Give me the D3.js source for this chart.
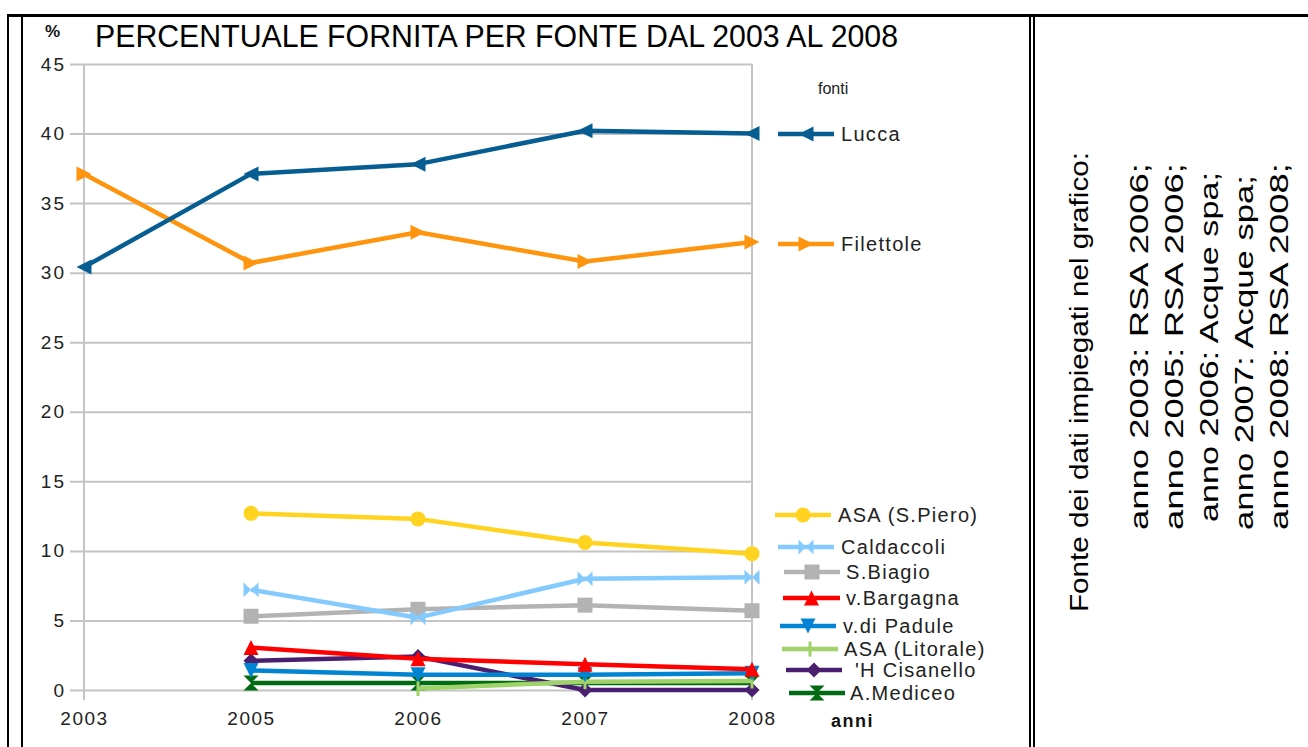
<!DOCTYPE html>
<html>
<head>
<meta charset="utf-8">
<script src="https://cdn.jsdelivr.net/npm/d3@7"></script>
<style>
  html, body { margin: 0; padding: 0; background: #fff; }
  svg { display: block; }
  text { font-family: "Liberation Sans", Arial, sans-serif; }
</style>
</head>
<body>
<svg id="chart" width="1308" height="747"></svg>
<script>
// ---------- data ----------
const years = ["2003", "2005", "2006", "2007", "2008"];
const yTicks = [0, 5, 10, 15, 20, 25, 30, 35, 40, 45];
const seriesNames = ["Lucca", "Filettole", "ASA (S.Piero)", "Caldaccoli", "S.Biagio",
  "v.Bargagna", "v.di Padule", "ASA (Litorale)", "'H Cisanello", "A.Mediceo"];
const lucca       = [30.4, 37.1, 37.8, 40.2, 40.0];
const filettole   = [37.1, 30.7, 32.9, 30.8, 32.2];
const asaSPiero   = [null, 12.7, 12.3, 10.6, 9.8];
const caldaccoli  = [null, 7.2, 5.2, 8.0, 8.1];
const sBiagio     = [null, 5.3, 5.8, 6.1, 5.7];
const vBargagna   = [null, 3.05, 2.25, 1.85, 1.5];
const vDiPadule   = [null, 1.4, 1.1, 1.1, 1.2];
const asaLitorale = [null, null, 0.1, 0.6, 0.65];
const cisanello   = [null, 2.1, 2.4, 0.0, 0.0];
const aMediceo    = [null, 0.5, 0.5, 0.5, 0.5];
const titleText = "PERCENTUALE FORNITA PER FONTE DAL 2003 AL 2008";
const sourceLines = ["Fonte dei dati impiegati nel grafico:", "anno 2003: RSA 2006;",
  "anno 2005: RSA 2006;", "anno 2006: Acque spa;", "anno 2007: Acque spa;", "anno 2008: RSA 2008;"];

// ---------- styles / layout ----------
const colors = ["#065d92", "#ff950e", "#ffd320", "#83caff", "#b3b3b3",
  "#ff0000", "#0084d1", "#9fd36a", "#4b1f6f", "#006b12"];
const symbols = ["triLeft", "triRight", "circle", "bowtie", "square",
  "triUp", "triDown", "vbar", "diamond", "hourglass"];
// legend entry: line y, line x0, line x1, text x
const legendLayout = [
  [134, 778, 834, 841], [244, 778, 834, 841], [515, 775, 831, 838],
  [547, 778, 834, 841], [572, 784, 840, 846], [598, 783, 840, 846],
  [626, 780, 836, 843], [649, 782, 838, 844], [670, 786, 842, 855],
  [693, 789, 845, 850]
];

const allValues = [lucca, filettole, asaSPiero, caldaccoli, sBiagio,
  vBargagna, vDiPadule, asaLitorale, cisanello, aMediceo];

const svg = d3.select("#chart");
svg.append("rect").attr("width", 1308).attr("height", 747).attr("fill", "#fff");

// frame (table borders)
const frame = svg.append("g").attr("fill", "#000");
frame.append("rect").attr("x", 7).attr("y", 14).attr("width", 1301).attr("height", 3);
frame.append("rect").attr("x", 7).attr("y", 14).attr("width", 2).attr("height", 733);
frame.append("rect").attr("x", 21).attr("y", 14).attr("width", 2).attr("height", 733);
frame.append("rect").attr("x", 1029).attr("y", 14).attr("width", 2).attr("height", 733);
frame.append("rect").attr("x", 1033).attr("y", 14).attr("width", 2).attr("height", 733);

// scales
const x = d3.scalePoint().domain(years).range([84, 752]);
const y = d3.scaleLinear().domain([0, 45]).range([690, 64]);

// gridlines + y axis labels
const yAxis = d3.axisLeft(y).tickValues(yTicks).tickSize(752 - 70).tickPadding(4);
const gy = svg.append("g").attr("transform", "translate(752,0)").call(yAxis);
gy.select(".domain").remove();
gy.selectAll(".tick line").attr("stroke", "#c4c4c4").attr("stroke-width", 2);
gy.selectAll(".tick text").attr("font-size", 19).attr("letter-spacing", 2)
  .attr("fill", "#222").attr("font-family", "Liberation Sans, Arial, sans-serif");

// vertical frame lines at first and last category
svg.append("g").selectAll("line").data([years[0], years[years.length - 1]]).join("line")
  .attr("x1", d => x(d)).attr("x2", d => x(d))
  .attr("y1", y(45)).attr("y2", y(0) + 10)
  .attr("stroke", "#c4c4c4").attr("stroke-width", 2);

// x axis labels
const xAxis = d3.axisBottom(x).tickSize(0).tickPadding(22);
const gx = svg.append("g").attr("transform", `translate(0,${y(0)})`).call(xAxis);
gx.select(".domain").remove();
gx.selectAll(".tick text").attr("font-size", 19).attr("letter-spacing", 1.5)
  .attr("fill", "#222").attr("font-family", "Liberation Sans, Arial, sans-serif");

// markers
function markerPath(type, r) {
  switch (type) {
    case "triLeft": return `M${r},${-r}L${-r},0L${r},${r}Z`;
    case "triRight": return `M${-r},${-r}L${r},0L${-r},${r}Z`;
    case "triUp": return `M${-r},${r}L0,${-r}L${r},${r}Z`;
    case "triDown": return `M${-r},${-r}L0,${r}L${r},${-r}Z`;
    case "circle": return d3.symbol(d3.symbolCircle, Math.PI * r * r)();
    case "square": return `M${-r},${-r}H${r}V${r}H${-r}Z`;
    case "bowtie": return `M${-r},${-r}L${r},${r}L${r},${-r}L${-r},${r}Z`;
    case "hourglass": return `M${-r},${-r}L${r},${-r}L${-r},${r}L${r},${r}Z`;
    case "diamond": return `M0,${-r}L${r},0L0,${r}L${-r},0Z`;
    case "vbar": return `M-1.5,${-r}H1.5V${r}H-1.5Z`;
  }
}

const line = d3.line()
  .defined(d => d.v !== null)
  .x(d => x(d.year)).y(d => y(d.v));

// draw series in reverse order so first series is on top
const plot = svg.append("g");
for (let i = allValues.length - 1; i >= 0; i--) {
  const pts = years.map((yr, j) => ({ year: yr, v: allValues[i][j] }));
  const g = plot.append("g");
  g.append("path").datum(pts).attr("d", line)
    .attr("fill", "none").attr("stroke", colors[i]).attr("stroke-width", 4.5)
    .attr("stroke-linejoin", "round");
  g.selectAll("path.m").data(pts.filter(d => d.v !== null)).join("path")
    .attr("class", "m")
    .attr("transform", d => `translate(${x(d.year)},${y(d.v)})`)
    .attr("d", markerPath(symbols[i], 7.5))
    .attr("fill", colors[i]);
}

// legend
const leg = svg.append("g");
leg.append("text").attr("x", 818).attr("y", 94).attr("font-size", 16)
  .attr("fill", "#222").text("fonti");
seriesNames.forEach((name, i) => {
  const [ly, x0, x1, tx] = legendLayout[i];
  leg.append("line").attr("x1", x0).attr("x2", x1).attr("y1", ly).attr("y2", ly)
    .attr("stroke", colors[i]).attr("stroke-width", 4.5);
  leg.append("path").attr("transform", `translate(${(x0 + x1) / 2},${ly})`)
    .attr("d", markerPath(symbols[i], 7.5)).attr("fill", colors[i]);
  leg.append("text").attr("x", tx).attr("y", ly).attr("dy", "0.35em")
    .attr("font-size", 20).attr("letter-spacing", 1.3).attr("fill", "#222").text(name);
});
leg.append("text").attr("x", 831).attr("y", 727).attr("font-size", 18)
  .attr("letter-spacing", 1.5)
  .attr("font-weight", "bold").attr("fill", "#111").text("anni");

// title
svg.append("text").attr("x", 45).attr("y", 37).attr("font-size", 17)
  .attr("font-weight", "bold").attr("fill", "#111").text("%");
svg.append("text").attr("x", 95).attr("y", 47).attr("font-size", 31)
  .attr("textLength", 803).attr("lengthAdjust", "spacingAndGlyphs")
  .attr("fill", "#000").text(titleText);

// source text (rotated)
const src = svg.append("g");
const srcX = [1088, 1148, 1183, 1218, 1253, 1288];
const srcStart = [612, 530, 530, 522, 530, 530];
const srcLen = [460, 367, 367, 350, 355, 367];
sourceLines.forEach((t, i) => {
  src.append("text")
    .attr("transform", `translate(${srcX[i]},${srcStart[i]}) rotate(-90)`)
    .attr("font-size", 25).attr("textLength", srcLen[i])
    .attr("lengthAdjust", "spacingAndGlyphs")
    .attr("fill", "#000").text(t);
});
</script>
</body>
</html>
